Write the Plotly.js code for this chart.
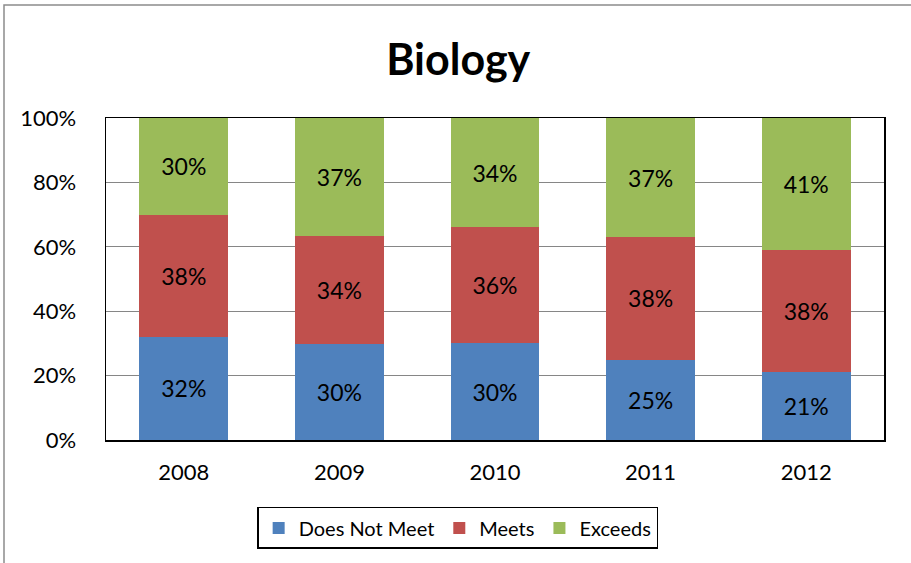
<!DOCTYPE html>
<html>
<head>
<meta charset="utf-8">
<script src="https://cdn.plot.ly/plotly-3.0.1.min.js"></script>
<style>html,body{margin:0;padding:0;background:#fff;}#chart{width:911px;height:563px;}</style>
</head>
<body>
<div id="chart"></div>
<script>
var years = ['2008', '2009', '2010', '2011', '2012'];
var doesNotMeet = [32, 30, 30, 25, 21];
var meets = [38, 34, 36, 38, 38];
var exceeds = [30, 37, 34, 37, 41];
var seriesNames = ['Does Not Meet', 'Meets', 'Exceeds'];
var seriesColors = ['#4F81BD', '#C0504D', '#9BBB59'];
var yTicks = [0, 20, 40, 60, 80, 100];

var FONT = 'Lato, "Open Sans", sans-serif';
var series = [doesNotMeet, meets, exceeds];
var data = series.map(function (vals, i) {
  return {
    type: 'bar',
    name: seriesNames[i],
    x: years,
    y: vals,
    text: vals.map(function (v) { return v + '%'; }),
    textposition: 'inside',
    insidetextanchor: 'middle',
    textangle: 0,
    constraintext: 'none',
    textfont: {family: FONT, size: 23, color: '#000'},
    marker: {color: seriesColors[i], line: {width: 0}},
    hoverinfo: 'skip'
  };
});

var layout = {
  width: 911, height: 563,
  margin: {l: 106, r: 27, t: 118, b: 123},
  paper_bgcolor: '#fff', plot_bgcolor: '#fff',
  font: {family: FONT, color: '#000'},
  barmode: 'stack',
  barnorm: 'percent',
  bargap: 0.43,
  title: {text: '<b>Biology</b>', font: {family: FONT, size: 43, color: '#000'},
          xref: 'container', x: 0.503, xanchor: 'center', yref: 'container', y: 0.893, yanchor: 'middle'},
  xaxis: {
    type: 'category', showline: true, linecolor: '#000', linewidth: 1.5, mirror: true,
    ticks: '', tickfont: {family: FONT, size: 22, color: '#000'}, ticklabelstandoff: 12,
    showgrid: false, zeroline: false
  },
  yaxis: {
    range: [0, 100], tickvals: yTicks, ticktext: yTicks.map(function (t) { return t + '%'; }),
    showline: true, linecolor: '#000', linewidth: 1.5, mirror: true,
    showgrid: true, gridcolor: '#868686', gridwidth: 1, zeroline: false,
    ticks: '', tickfont: {family: FONT, size: 22, color: '#000'}, ticklabelstandoff: 24
  },
  showlegend: true,
  legend: {
    orientation: 'h', xref: 'paper', x: 0.452, xanchor: 'center', yref: 'paper', y: -0.208, yanchor: 'top',
    bordercolor: '#000', borderwidth: 1.5, bgcolor: '#fff',
    font: {family: FONT, size: 20, color: '#000'}, traceorder: 'normal', itemwidth: 30
  },
  shapes: [{
    type: 'rect', xref: 'paper', yref: 'paper',
    x0: (4 - 106) / 778, x1: (915 - 106) / 778, y0: (440 - 5) / 322, y1: (440 - 566) / 322,
    line: {color: '#8c8c8c', width: 1.5}, fillcolor: 'rgba(0,0,0,0)', layer: 'below'
  }]
};

Plotly.newPlot('chart', data, layout, {displayModeBar: false, staticPlot: true});
</script>
</body>
</html>
